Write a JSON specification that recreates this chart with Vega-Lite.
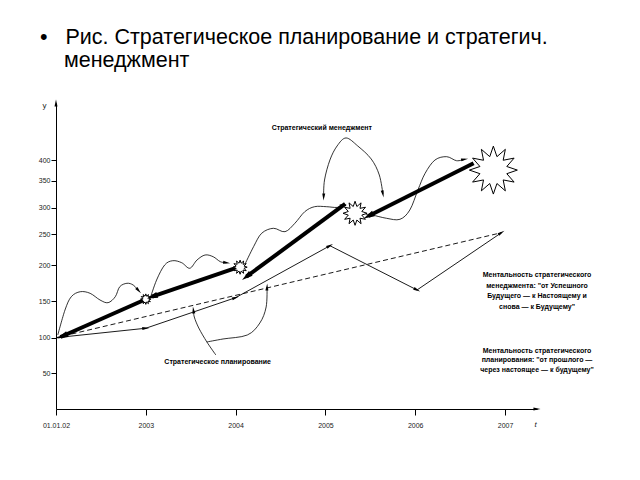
{
  "$schema": "https://vega.github.io/schema/vega-lite/v6.json",
  "width": 481,
  "height": 306,
  "autosize": {"type": "none"},
  "padding": {"left": 56, "top": 103, "right": 103, "bottom": 71},
  "background": "white",
  "config": {"view": {"stroke": null}, "font": "Liberation Sans"},
  "title": {
    "text": ["•\u00a0\u00a0\u00a0Рис. Стратегическое планирование и стратегич.", "\u200b\u00a0\u00a0\u00a0\u00a0менеджмент"],
    "anchor": "start",
    "frame": "group",
    "fontSize": 21.5,
    "fontWeight": "normal",
    "font": "Liberation Sans",
    "color": "black",
    "dx": -16,
    "offset": 28,
    "lineHeight": 23
  },
  "datasets": {
    "dash": [{"t": 2002, "v": 100}, {"t": 2006.96, "v": 253}],
    "plan": [
      {"t": 2002, "v": 100}, {"t": 2003, "v": 113}, {"t": 2004, "v": 155},
      {"t": 2005.05, "v": 231.4}, {"t": 2006.02, "v": 165.6}, {"t": 2006.96, "v": 253}
    ],
    "bold": [
      {"seg": 1, "i": 1, "t": 2003.0, "v": 152.8}, {"seg": 1, "i": 2, "t": 2002.05, "v": 101},
      {"seg": 2, "i": 1, "t": 2004.03, "v": 197}, {"seg": 2, "i": 2, "t": 2003.07, "v": 156.3},
      {"seg": 3, "i": 1, "t": 2005.22, "v": 306.9}, {"seg": 3, "i": 2, "t": 2004.12, "v": 183.9},
      {"seg": 4, "i": 1, "t": 2006.65, "v": 392.6}, {"seg": 4, "i": 2, "t": 2005.48, "v": 284.4}
    ],
    "curves": [
      {"c": "A", "i": 1, "t": 2002.02, "v": 103.7}, {"c": "A", "i": 2, "t": 2002.10, "v": 138},
      {"c": "A", "i": 3, "t": 2002.17, "v": 156.3}, {"c": "A", "i": 4, "t": 2002.27, "v": 163.2},
      {"c": "A", "i": 5, "t": 2002.38, "v": 161}, {"c": "A", "i": 6, "t": 2002.49, "v": 151.8},
      {"c": "A", "i": 7, "t": 2002.58, "v": 148.1}, {"c": "A", "i": 8, "t": 2002.66, "v": 156.3},
      {"c": "A", "i": 9, "t": 2002.71, "v": 170.1}, {"c": "A", "i": 10, "t": 2002.79, "v": 174.8},
      {"c": "A", "i": 11, "t": 2002.86, "v": 172.4}, {"c": "A", "i": 12, "t": 2002.92, "v": 164.6},
      {"c": "B", "i": 1, "t": 2003.05, "v": 154.5}, {"c": "B", "i": 2, "t": 2003.12, "v": 179.3},
      {"c": "B", "i": 3, "t": 2003.21, "v": 200}, {"c": "B", "i": 4, "t": 2003.30, "v": 207},
      {"c": "B", "i": 5, "t": 2003.40, "v": 203.7}, {"c": "B", "i": 6, "t": 2003.49, "v": 195.5},
      {"c": "B", "i": 7, "t": 2003.57, "v": 208.1}, {"c": "B", "i": 8, "t": 2003.66, "v": 216.3},
      {"c": "B", "i": 9, "t": 2003.75, "v": 213.5}, {"c": "B", "i": 10, "t": 2003.83, "v": 205.4},
      {"c": "B", "i": 11, "t": 2003.90, "v": 203.7},
      {"c": "C", "i": 1, "t": 2004.10, "v": 200}, {"c": "C", "i": 2, "t": 2004.20, "v": 229.8},
      {"c": "C", "i": 3, "t": 2004.29, "v": 251.9}, {"c": "C", "i": 4, "t": 2004.42, "v": 261.3},
      {"c": "C", "i": 5, "t": 2004.55, "v": 254.9}, {"c": "C", "i": 6, "t": 2004.66, "v": 270.7},
      {"c": "C", "i": 7, "t": 2004.77, "v": 292.5}, {"c": "C", "i": 8, "t": 2004.88, "v": 301.9},
      {"c": "C", "i": 9, "t": 2005.01, "v": 301.9}, {"c": "C", "i": 10, "t": 2005.13, "v": 300.5},
      {"c": "C", "i": 11, "t": 2005.20, "v": 305},
      {"c": "D", "i": 1, "t": 2005.45, "v": 287}, {"c": "D", "i": 2, "t": 2005.52, "v": 286.3},
      {"c": "D", "i": 3, "t": 2005.68, "v": 280.1}, {"c": "D", "i": 4, "t": 2005.83, "v": 278.2},
      {"c": "D", "i": 5, "t": 2005.94, "v": 295.7}, {"c": "D", "i": 6, "t": 2006.03, "v": 332.8},
      {"c": "D", "i": 7, "t": 2006.11, "v": 368.1}, {"c": "D", "i": 8, "t": 2006.22, "v": 400.7},
      {"c": "D", "i": 9, "t": 2006.35, "v": 408.2}, {"c": "D", "i": 10, "t": 2006.46, "v": 399},
      {"c": "D", "i": 11, "t": 2006.55, "v": 402.3},
      {"c": "SM", "i": 1, "t": 2004.98, "v": 319.8}, {"c": "SM", "i": 2, "t": 2004.99, "v": 351.7},
      {"c": "SM", "i": 3, "t": 2005.05, "v": 400.7}, {"c": "SM", "i": 4, "t": 2005.13, "v": 432.5},
      {"c": "SM", "i": 5, "t": 2005.23, "v": 450.7}, {"c": "SM", "i": 6, "t": 2005.36, "v": 432.5},
      {"c": "SM", "i": 7, "t": 2005.51, "v": 403}, {"c": "SM", "i": 8, "t": 2005.60, "v": 364},
      {"c": "SM", "i": 9, "t": 2005.64, "v": 325.4},
      {"c": "SP1", "i": 1, "t": 2003.78, "v": 75.7}, {"c": "SP1", "i": 2, "t": 2003.68, "v": 94},
      {"c": "SP1", "i": 3, "t": 2003.59, "v": 113.3}, {"c": "SP1", "i": 4, "t": 2003.54, "v": 128.4},
      {"c": "SP1", "i": 5, "t": 2003.53, "v": 138},
      {"c": "SP2", "i": 1, "t": 2003.68, "v": 94}, {"c": "SP2", "i": 2, "t": 2003.86, "v": 98.2},
      {"c": "SP2", "i": 3, "t": 2004.13, "v": 103.7}, {"c": "SP2", "i": 4, "t": 2004.27, "v": 120.2},
      {"c": "SP2", "i": 5, "t": 2004.34, "v": 142.2}, {"c": "SP2", "i": 6, "t": 2004.35, "v": 169.7}
    ],
    "stars": [
      {"stage": 1, "t": 2003.0, "v": 153},
      {"stage": 2, "t": 2004.05, "v": 197},
      {"stage": 3, "t": 2005.33, "v": 289.5},
      {"stage": 4, "t": 2006.87, "v": 376}
    ],
    "arrowsBold": [
      {"t": 2002.07, "v": 102, "dir": 247},
      {"t": 2003.07, "v": 156.3, "dir": 251},
      {"t": 2004.12, "v": 183.9, "dir": 233},
      {"t": 2005.48, "v": 284.4, "dir": 243}
    ],
    "arrowsThin": [
      {"t": 2003, "v": 113, "dir": 85},
      {"t": 2004, "v": 155, "dir": 71},
      {"t": 2005.05, "v": 231.4, "dir": 62},
      {"t": 2006.02, "v": 165.6, "dir": 117},
      {"t": 2006.96, "v": 253, "dir": 58},
      {"t": 2002.92, "v": 164.6, "dir": 139},
      {"t": 2003.90, "v": 203.7, "dir": 98},
      {"t": 2005.20, "v": 305, "dir": 75},
      {"t": 2006.55, "v": 402.3, "dir": 80},
      {"t": 2004.98, "v": 319.8, "dir": 182},
      {"t": 2005.64, "v": 325.4, "dir": 168},
      {"t": 2003.53, "v": 138, "dir": -8},
      {"t": 2004.35, "v": 169.7, "dir": 3},
      {"t": 2002, "v": 530, "dir": 0},
      {"t": 2007.356, "v": 0, "dir": 90}
    ],
    "labels": [
      {"text": "Стратегический менеджмент", "t": 2004.96, "v": 473},
      {"text": "Стратегическое планирование", "t": 2003.80, "v": 65.9}
    ],
    "notes1": [
      {"text": "Ментальность стратегического\nменеджмента: \"от Успешного\nБудущего — к Настоящему и\nснова — к Будущему\"", "t": 2007.356, "v": 191.7}
    ],
    "notes2": [
      {"text": "Ментальность стратегического\nпланирования: \"от прошлого —\nчерез настоящее — к будущему\"", "t": 2007.356, "v": 87}
    ]
  },
  "encoding": {
    "x": {
      "field": "t",
      "type": "quantitative",
      "scale": {"domain": [2002, 2007.356], "nice": false, "zero": false},
      "axis": {
        "values": [2002, 2003, 2004, 2005, 2006, 2007],
        "labelExpr": "datum.value == 2002 ? '01.01.02' : format(datum.value, 'd')",
        "grid": false,
        "domainColor": "black",
        "domainWidth": 1,
        "tickColor": "black",
        "tickSize": 6,
        "labelFontSize": 7,
        "labelColor": "#222",
        "labelPadding": 6,
        "labelFlush": false,
        "title": "t",
        "titleX": 479,
        "titleY": 15,
        "titleAlign": "center",
        "titleBaseline": "middle",
        "titleFontStyle": "italic",
        "titleFontWeight": "normal",
        "titleFontSize": 8,
        "titleColor": "#222"
      }
    },
    "y": {
      "field": "v",
      "type": "quantitative",
      "scale": {
        "domain": [0, 50, 100, 150, 200, 250, 300, 350, 400, 530],
        "range": [306, 270.3, 234.7, 198.3, 162, 131.3, 104.7, 77.7, 57.3, 0],
        "nice": false,
        "zero": false
      },
      "axis": {
        "values": [50, 100, 150, 200, 250, 300, 350, 400],
        "grid": false,
        "domainColor": "black",
        "domainWidth": 1,
        "tickColor": "black",
        "tickSize": 5,
        "labelFontSize": 7,
        "labelColor": "#222",
        "labelPadding": 1,
        "labelFlush": false,
        "title": "y",
        "titleAngle": 0,
        "titleX": -12,
        "titleY": 2,
        "titleAlign": "center",
        "titleBaseline": "middle",
        "titleFontSize": 8,
        "titleFontWeight": "normal",
        "titleColor": "#222"
      }
    }
  },
  "layer": [
    {
      "data": {"name": "dash"},
      "mark": {"type": "line", "color": "black", "strokeWidth": 0.9, "strokeDash": [5, 3]},
      "encoding": {}
    },
    {
      "data": {"name": "plan"},
      "mark": {"type": "line", "color": "black", "strokeWidth": 0.9},
      "encoding": {}
    },
    {
      "data": {"name": "curves"},
      "mark": {"type": "line", "color": "black", "strokeWidth": 0.8, "interpolate": "cardinal"},
      "encoding": {
        "detail": {"field": "c"},
        "order": {"field": "i", "type": "quantitative"}
      }
    },
    {
      "data": {"name": "bold"},
      "mark": {"type": "line", "color": "black", "strokeWidth": 4},
      "encoding": {
        "detail": {"field": "seg"},
        "order": {"field": "i", "type": "quantitative"}
      }
    },
    {
      "data": {"name": "stars"},
      "mark": {
        "type": "point",
        "shape": "M0,-1L0.15,-0.56L0.5,-0.866L0.41,-0.41L0.866,-0.5L0.56,-0.15L1,0L0.56,0.15L0.866,0.5L0.41,0.41L0.5,0.866L0.15,0.56L0,1L-0.15,0.56L-0.5,0.866L-0.41,0.41L-0.866,0.5L-0.56,0.15L-1,0L-0.56,-0.15L-0.866,-0.5L-0.41,-0.41L-0.5,-0.866L-0.15,-0.56Z",
        "filled": true,
        "fill": "white",
        "stroke": "black",
        "strokeWidth": 1,
        "opacity": 1
      },
      "encoding": {
        "size": {
          "field": "stage",
          "type": "quantitative",
          "scale": {"domain": [1, 2, 3, 4], "range": [110, 200, 580, 2300]},
          "legend": null
        }
      }
    },
    {
      "data": {"name": "arrowsThin"},
      "mark": {"type": "point", "shape": "M0,-1L0.42,1L-0.42,1Z", "filled": true, "color": "black", "opacity": 1, "size": 50},
      "encoding": {
        "angle": {"field": "dir", "type": "quantitative", "scale": null}
      }
    },
    {
      "data": {"name": "arrowsBold"},
      "mark": {"type": "point", "shape": "M0,-1L0.55,1L-0.55,1Z", "filled": true, "color": "black", "opacity": 1, "size": 120},
      "encoding": {
        "angle": {"field": "dir", "type": "quantitative", "scale": null}
      }
    },
    {
      "data": {"name": "labels"},
      "mark": {"type": "text", "fontSize": 7, "fontWeight": "bold", "color": "black", "align": "center", "baseline": "middle"},
      "encoding": {"text": {"field": "text"}}
    },
    {
      "data": {"name": "notes1"},
      "mark": {"type": "text", "fontSize": 7, "fontWeight": "bold", "color": "black", "align": "center", "baseline": "top", "lineBreak": "\n", "lineHeight": 10.5},
      "encoding": {"text": {"field": "text"}}
    },
    {
      "data": {"name": "notes2"},
      "mark": {"type": "text", "fontSize": 7, "fontWeight": "bold", "color": "black", "align": "center", "baseline": "top", "lineBreak": "\n", "lineHeight": 9.5},
      "encoding": {"text": {"field": "text"}}
    }
  ]
}
